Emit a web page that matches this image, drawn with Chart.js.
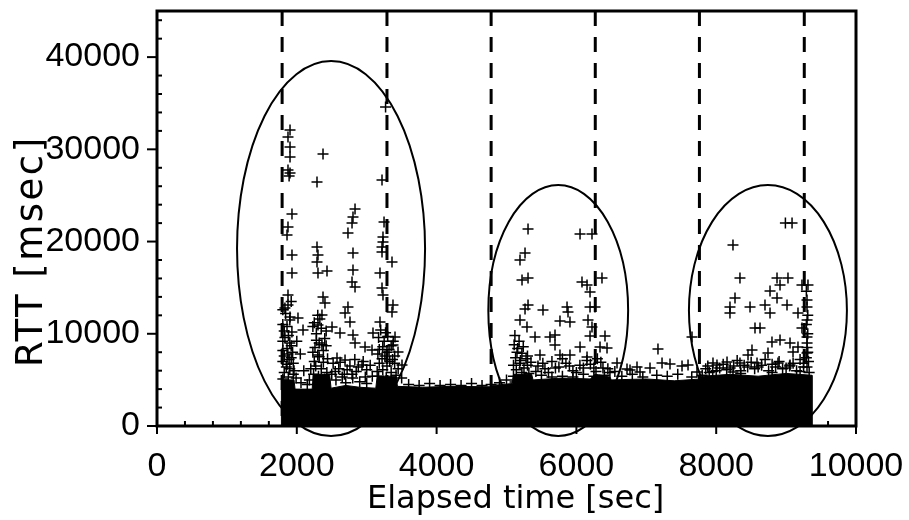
<!DOCTYPE html>
<html>
<head>
<meta charset="utf-8">
<script src="https://cdn.jsdelivr.net/npm/chart.js@4/dist/chart.umd.min.js"></script>
<style>
html,body{margin:0;padding:0;background:#fff;}
#wrap{width:909px;height:520px;}
</style>
</head>
<body>
<div id="wrap"><canvas id="c" width="909" height="520"></canvas></div>
<script>
// ---------- data ----------
const xTickValues = [0, 2000, 4000, 6000, 8000, 10000];
const yTickValues = [0, 10000, 20000, 30000, 40000];
const xTitle = 'Elapsed time [sec]';
const yTitle = 'RTT [msec]';

// phase boundaries (dashed vertical lines), seconds
const phaseBoundaries = [1790, 3290, 4780, 6270, 7760, 9260];

// highlight ellipses: centre (sec, msec) and half extents (sec, msec)
const ellipseCentersX = [2490, 5740, 8740];
const ellipseCentersY = [19240, 12520, 12520];
const ellipseHalfW = [1345, 1000, 1130];
const ellipseHalfH = [20330, 13600, 13600];

// upper envelope of the saturated (solid black) band of RTT samples
const bandX   = [1780,1780,1960,1975,2220,2235,2470,2490,2700,2900,3130,3150,3420,3440,3800,4200,4780,4800,5080,5100,5360,5380,5800,6200,6260,6280,6480,6500,7000,7400,7780,7800,8200,8600,9000,9370,9370];
const bandTop = [0,5000,5000,4000,4000,5600,5600,4100,4400,4200,4100,5400,5400,4300,4200,4300,4250,4400,4600,5600,5600,5000,5200,5100,5600,5600,5300,5000,5100,4900,5100,5400,5600,5400,5700,5500,0];

// individual samples, [sec, msec]
const phase1Samples = [[3270,34600],[1903,32090],[1874,31330],[1903,30240],[1903,29160],[2375,29485],[1874,27750],[1903,27425],[1890,27100],[2289,26450],[3219,26670],[1931,22980],[2833,23520],[2804,22660],[2790,22000],[1874,21570],[2732,20920],[1860,20700],[3248,22110],[3233,20490],[3233,19950],[3219,19400],[2289,19400],[1931,18540],[2303,18540],[2804,18750],[3219,18860],[2289,17780],[3362,17780],[1931,16590],[2303,16590],[2432,16800],[2804,16910],[3190,16590],[2790,15610],[2833,15070],[3219,14960],[3233,14200],[1874,14200],[2375,13980],[2403,13330],[1874,13120],[3376,13120],[2732,12900],[3362,12360],[2690,12250],[2360,12030],[1903,11820],[2017,11710],[3190,11270],[2761,11270],[2504,10730],[2089,10410],[2303,10950],[2618,10080],[2804,9860],[3090,10080],[3405,9650],[2976,8560],[2833,9000],[3376,8780],[2575,7370],[2690,7150],[2933,6610],[3076,8240],[3448,8020],[3505,6610]];
const phase2Samples = [[5308,21350],[6052,20810],[6223,20810],[5265,18750],[5193,18000],[5222,15830],[5308,16040],[6080,15610],[6152,15280],[6366,16040],[6195,14530],[5308,13120],[5265,12680],[5522,12570],[5866,12900],[5880,12360],[6195,12900],[6266,12900],[5193,11490],[5293,10730],[5908,11270],[5765,11380],[6166,11490],[6223,10730],[5408,9650],[5694,9860],[5622,9650],[6195,9760],[6409,9760],[5694,8780],[6052,8560],[6338,8560],[5479,7700],[5765,7700],[5908,7700],[6152,7480],[6438,8460],[6581,6830],[6767,6070],[6910,5850],[5122,4770],[7167,8350],[7654,9650]];
const phase3Samples = [[8990,22000],[9085,22000],[8240,19620],[8340,16040],[8870,16040],[9027,16040],[8913,15280],[9227,15280],[9313,15280],[8770,14630],[8870,13880],[8269,13880],[8197,12900],[8484,12900],[8698,13120],[9013,13120],[9299,13660],[8197,12250],[8770,12250],[9170,12250],[9299,12900],[8555,10620],[8627,10620],[9227,10620],[9299,9650],[8798,9110],[8913,9320],[9056,9000],[9170,8560],[8512,8240],[8741,7910],[8455,7700],[9099,8020],[9299,7910],[8011,6610],[8155,6940],[8340,6830],[8584,6830],[8884,6830],[9056,6610],[9299,6400],[8240,5850]];
const denseSamples1 = [[1830,12800],[1900,11500],[1860,10800],[1930,10200],[1830,9600],[1900,9000],[1860,8400],[1940,8000],[1820,7600],[1890,7200],[1950,6800],[1850,6400],[2000,9200],[2050,7800],[2100,6000],[1990,5200],[2060,4700],[2150,4500],
[1800,11000],[1820,10300],[1880,9800],[1800,9200],[1920,8700],[1800,8200],[1870,7800],[1920,7400],[1800,7000],[1860,6700],[1900,6200],[1820,5800],[1950,5600],[1880,5300],[1800,5100],[1960,6000],[1840,12200],[1920,13500],[1800,12600],
[2300,12000],[2250,11200],[2350,10600],[2280,10000],[2400,9500],[2320,9000],[2260,8500],[2380,8200],[2300,7700],[2440,7300],[2250,7000],[2200,6200],[2180,5000],
[2230,10800],[2330,11600],[2420,10300],[2280,9300],[2360,8800],[2230,8000],[2420,8700],[2320,7500],[2380,6900],[2270,6500],[2350,6200],[2430,5800],[2240,5600],[2310,5400],[2400,5100],
[2520,6800],[2600,6200],[2680,5600],[2760,6500],[2850,5900],[2950,7000],[3000,6100],[3080,5400],[2560,5000],[2700,4700],[2900,4800],[2800,5200],[3000,4600],
[2550,5900],[2620,6900],[2720,6100],[2790,5600],[2880,6400],[2980,5300],[3050,6600],[2650,5300],[2830,7200],[2500,5600],
[3200,10400],[3300,9700],[3250,9200],[3350,8700],[3180,8300],[3290,8000],[3400,7600],[3220,7300],[3330,7000],[3450,6200],[3500,5200],[3150,5900],
[3170,9600],[3270,10100],[3380,9200],[3230,8600],[3320,8300],[3160,7800],[3260,7600],[3370,7200],[3180,6800],[3290,6500],[3400,6800],[3230,6100],[3350,5800],[3170,5400],[3280,5200],[3420,5500],
[3600,4500],[3750,4400],[3900,4600],[4050,4400],[4200,4500],[4350,4400],[4500,4600],[4650,4400],[4780,4500]];
const denseSamples2 = [[5120,9800],[5180,9200],[5240,8600],[5150,8000],[5300,7600],[5200,7100],[5350,6900],[5100,6600],[5250,6300],[5450,6500],[5550,6200],[5650,7000],[5750,6400],[5850,6800],[5950,6000],[6050,6600],[6150,7100],[6250,6300],[6350,6900],[6450,6200],[6550,5900],[5500,5500],[5800,5400],[6100,5600],[6400,5500],[5000,5000],[4900,4700],
[5110,8800],[5160,8400],[5220,7900],[5280,7300],[5130,7400],[5190,6800],[5300,6600],[5140,6100],[5220,5800],[5320,5700],[5100,5400],[5260,5200],
[5420,5900],[5520,6800],[5600,5800],[5700,6300],[5800,7300],[5900,6500],[6000,5800],[6100,6300],[6200,6700],[6300,7300],[6280,5900],[6380,6300],[6480,5800],[5650,5300],[5950,5300],[6250,5400],
[6650,5400],[6724,6180],[6800,5600],[6867,6400],[6950,5300],[7053,6290],[7150,5500],[7225,6830],[7300,5400],[7339,6720],[7450,5600],[7511,6500],[7597,6610],[7650,5300],[7725,5850],[7800,5500]];
const denseSamples3 = [[7850,6200],[7954,6830],[7950,5900],[8050,6300],[8150,6100],[8250,6500],[8350,6000],[8450,6400],[8550,6200],[8650,6600],[8750,6000],[8850,6400],[8950,6200],[9050,6500],[9150,6000],[9250,6400],[9320,7000],[9300,8500],[9310,10000],[9300,11500],[9290,14600],[9310,12000],[9290,11000],[9300,9000],[9310,8000],[9290,7400],[9330,5800],
[7880,6500],[8000,6000],[8100,6700],[8200,6300],[8300,7100],[8400,6600],[8500,6900],[8600,6400],[8700,7200],[8800,6700],[8900,7000],[9000,6300],[9100,6800],[9200,7200],[9250,6800],[7900,5800],[8350,5700],[8800,5800],[9200,5900]];

// ---------- chart ----------
const toPts = arr => arr.map(p => ({x: p[0], y: p[1]}));
const crossStyle = {pointStyle: 'cross', pointRadius: 5.5, pointHoverRadius: 5.5, borderColor: '#000', backgroundColor: '#000', borderWidth: 1.5, showLine: false, clip: false};

const decor = {
  id: 'decor',
  afterDatasetsDraw(chart) {
    const {ctx, chartArea: a, scales: {x, y}} = chart;
    ctx.save();
    ctx.strokeStyle = '#000';
    ctx.lineWidth = 3;
    ctx.setLineDash([15, 11]);
    phaseBoundaries.forEach(v => {
      const px = x.getPixelForValue(v);
      ctx.beginPath(); ctx.moveTo(px, a.top); ctx.lineTo(px, a.bottom); ctx.stroke();
    });
    ctx.setLineDash([]);
    ctx.lineWidth = 2;
    ellipseCentersX.forEach((cxv, i) => {
      const cx = x.getPixelForValue(cxv), cy = y.getPixelForValue(ellipseCentersY[i]);
      const rx = Math.abs(x.getPixelForValue(cxv + ellipseHalfW[i]) - cx);
      const ry = Math.abs(y.getPixelForValue(ellipseCentersY[i] + ellipseHalfH[i]) - cy);
      ctx.beginPath(); ctx.ellipse(cx, cy, rx, ry, 0, 0, Math.PI * 2); ctx.stroke();
    });
    ctx.lineWidth = 3;
    ctx.strokeRect(a.left, a.top, a.right - a.left, a.bottom - a.top);
    ctx.lineWidth = 2;
    for (let v = x.min; v <= x.max + 1e-6; v += 400) {
      const px = x.getPixelForValue(v);
      ctx.beginPath();
      if (v % 2000 === 0) { ctx.moveTo(px, a.bottom); ctx.lineTo(px, a.bottom + 8); }
      else { ctx.moveTo(px, a.bottom); ctx.lineTo(px, a.bottom - 5); }
      ctx.stroke();
    }
    for (let v = y.min; v <= y.max + 1e-6; v += 2000) {
      const py = y.getPixelForValue(v);
      ctx.beginPath();
      if (v % 10000 === 0) { ctx.moveTo(a.left - 10, py); ctx.lineTo(a.left, py); }
      else { ctx.moveTo(a.left, py); ctx.lineTo(a.left + 5, py); }
      ctx.stroke();
    }
    ctx.restore();
  },
  afterDraw(chart) {
    const {ctx} = chart;
    ctx.save();
    ctx.fillStyle = '#000';
    ctx.font = '32px "DejaVu Sans"';
    ctx.textAlign = 'left';
    ctx.textBaseline = 'alphabetic';
    ctx.fillText(xTitle, 367, 508);
    ctx.translate(42, 367);
    ctx.rotate(-Math.PI / 2);
    ctx.font = '37px "DejaVu Sans"';
    if ('letterSpacing' in ctx) ctx.letterSpacing = '2.5px';
    ctx.fillText(yTitle, 0, 0);
    ctx.restore();
  }
};

new Chart(document.getElementById('c'), {
  type: 'scatter',
  data: {
    datasets: [
      Object.assign({label: 'phase 1'}, crossStyle, {data: toPts(phase1Samples)}),
      Object.assign({label: 'phase 2'}, crossStyle, {data: toPts(phase2Samples)}),
      Object.assign({label: 'phase 3'}, crossStyle, {data: toPts(phase3Samples)}),
      Object.assign({label: 'dense 1'}, crossStyle, {data: toPts(denseSamples1)}),
      Object.assign({label: 'dense 2'}, crossStyle, {data: toPts(denseSamples2)}),
      Object.assign({label: 'dense 3'}, crossStyle, {data: toPts(denseSamples3)}),
      {
        type: 'line', label: 'band',
        data: bandX.map((v, i) => ({x: v, y: bandTop[i]})),
        fill: 'origin', backgroundColor: '#000', borderColor: '#000', borderWidth: 1,
        pointRadius: 0, tension: 0, clip: false
      }
    ]
  },
  options: {
    responsive: false,
    animation: false,
    events: [],
    layout: {padding: {left: 0, right: 53, top: 11, bottom: 0}},
    plugins: {legend: {display: false}, tooltip: {enabled: false}},
    scales: {
      x: {
        type: 'linear', min: 0, max: 10000,
        afterBuildTicks: s => { s.ticks = xTickValues.map(v => ({value: v})); },
        ticks: {font: {family: '"Liberation Sans", Arial, sans-serif', size: 34}, color: '#000', padding: 12, maxRotation: 0, autoSkip: false, callback: v => String(v)},
        grid: {display: false}, border: {display: false},
        afterFit: s => { s.height = 94; s.paddingLeft = 0; s.paddingRight = 0; }
      },
      y: {
        type: 'linear', min: 0, max: 45000,
        afterBuildTicks: s => { s.ticks = yTickValues.map(v => ({value: v})); },
        ticks: {font: {family: '"Liberation Sans", Arial, sans-serif', size: 34}, color: '#000', padding: 9, autoSkip: false, callback: v => String(v)},
        grid: {display: false}, border: {display: false},
        afterFit: s => { s.width = 157; s.paddingTop = 0; s.paddingBottom = 0; }
      }
    }
  },
  plugins: [decor]
});
</script>
</body>
</html>
